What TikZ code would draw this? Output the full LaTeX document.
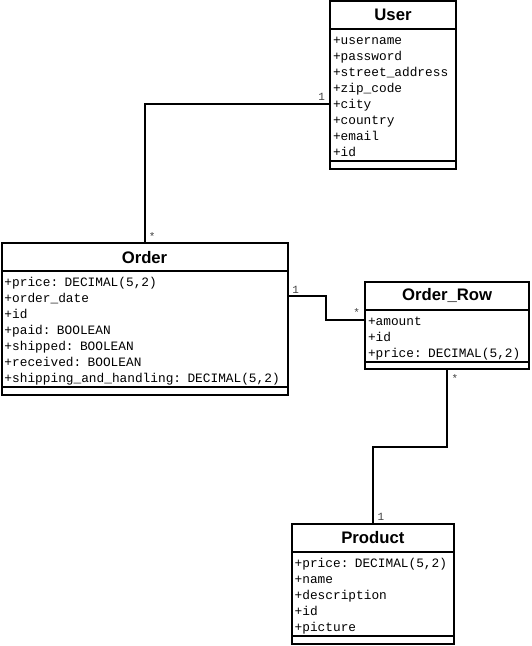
\documentclass[tikz,border=0pt]{standalone}
\usepackage{fontspec}
\setmainfont{Liberation Sans}
\newfontfamily\monofont{Liberation Mono}
\usetikzlibrary{positioning,calc}

\begin{document}
\begin{tikzpicture}[x=1pt,y=-1pt,
    box/.style={draw,line width=2pt,inner sep=0pt,outer sep=0pt},
    title/.style={box,anchor=north west,minimum height=28pt,font=\fontsize{16.7}{18}\selectfont\bfseries},
    attrs/.style={box,align=left,inner xsep=3pt,inner ysep=2pt,
      font=\monofont\fontsize{12.8}{16}\selectfont,
      execute at begin node={\rule{0pt}{13.4pt}},
      execute at end node={\rule[-2.6pt]{0pt}{0pt}}},
    meths/.style={box,minimum height=7.5pt},
    assoc/.style={line width=2pt},
    mult/.style={font=\monofont\fontsize{11}{12}\selectfont,text=black!75,inner sep=0pt}]

    % fix the page size
    \useasboundingbox (0,0) rectangle (531,646);

    % the User class
    \node[title,minimum width=126pt] (userT) at (330,1) {User};
    \node[attrs,text width=120pt,below=0pt of userT] (userA)
      {+username\\+password\\+street\_address\\+zip\_code\\+city\\+country\\+email\\+id};
    \node[meths,minimum width=126pt,below=0pt of userA] (userM) {};

    % the Order class
    \node[title,minimum width=286pt] (orderT) at (1.5,243.3) {Order};
    \node[attrs,text width=280pt,below=0pt of orderT] (orderA)
      {+price: DECIMAL(5,2)\\+order\_date\\+id\\+paid: BOOLEAN\\+shipped: BOOLEAN\\+received: BOOLEAN\\+shipping\_and\_handling: DECIMAL(5,2)};
    \node[meths,minimum width=286pt,below=0pt of orderA] (orderM) {};

    % the Order_Row class
    \node[title,minimum width=164.3pt] (rowT) at (365,281.7) {Order\_Row};
    \node[attrs,text width=158.3pt,below=0pt of rowT] (rowA)
      {+amount\\+id\\+price: DECIMAL(5,2)};
    \node[meths,minimum width=164.3pt,below=0pt of rowA] (rowM) {};

    % the Product class
    \node[title,minimum width=162.3pt] (prodT) at (291.7,524) {Product};
    \node[attrs,text width=156.3pt,below=0pt of prodT] (prodA)
      {+price: DECIMAL(5,2)\\+name\\+description\\+id\\+picture};
    \node[meths,minimum width=162.3pt,below=0pt of prodA] (prodM) {};

    % the associations
    \draw[assoc] ([yshift=-8.8pt]userA.west) node[mult,xshift=-8.3pt,yshift=6.6pt] {1}
      -| (orderT.north) node[mult,xshift=7.7pt,yshift=7pt] {*};

    \coordinate (orderOut) at ([yshift=33pt]orderA.east);
    \coordinate (rowIn) at ([yshift=16pt]rowA.west);
    \draw[assoc] (orderOut) node[mult,xshift=8.2pt,yshift=6pt] {1}
      -| ($(orderOut)!.5!(rowIn)$) |- (rowIn) node[mult,xshift=-8.3pt,yshift=7pt] {*};

    \draw[assoc] (rowM.south) node[mult,xshift=7.8pt,yshift=-9pt] {*}
      |- ($(rowM.south)!.5!(prodT.north)$) -| (prodT.north) node[mult,xshift=8pt,yshift=7.3pt] {1};
  \end{tikzpicture}
\end{document}
